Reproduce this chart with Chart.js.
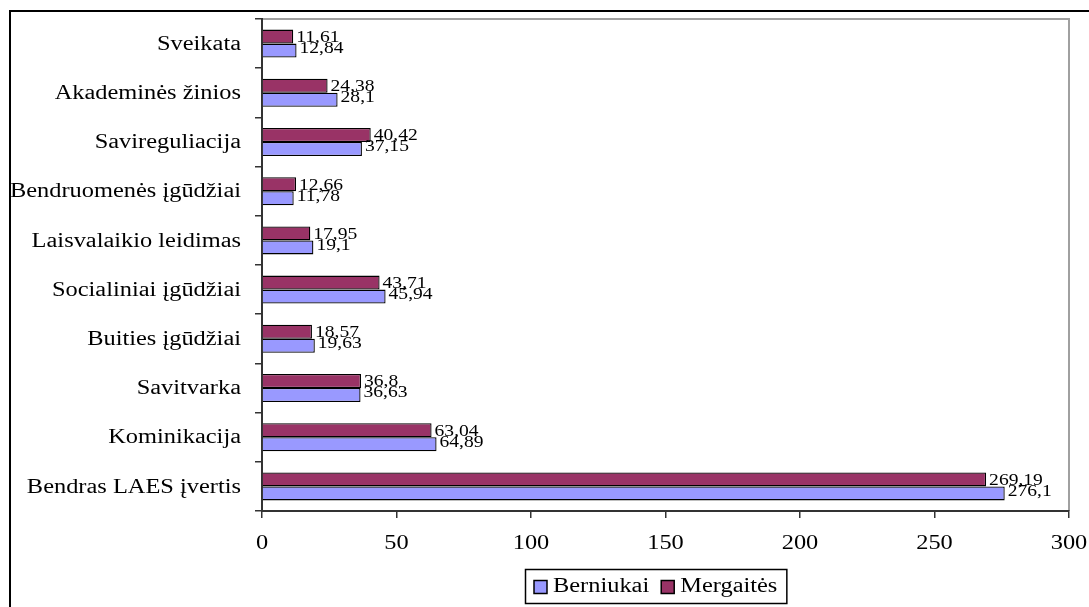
<!DOCTYPE html>
<html>
<head>
<meta charset="utf-8">
<title>LAES</title>
<script src="https://cdn.jsdelivr.net/npm/chart.js@4"></script>
<style>
  html, body { margin: 0; padding: 0; background: #fff; }
  canvas { display: block; }
</style>
</head>
<body>
<canvas id="graph" width="1089" height="607"></canvas>
<script>
// kategorijos iš viršaus į apačią
var categories = [
  'Sveikata',
  'Akademinės žinios',
  'Savireguliacija',
  'Bendruomenės įgūdžiai',
  'Laisvalaikio leidimas',
  'Socialiniai įgūdžiai',
  'Buities įgūdžiai',
  'Savitvarka',
  'Kominikacija',
  'Bendras LAES įvertis'
];
var berniukai = [12.84, 28.1, 37.15, 11.78, 19.1, 45.94, 19.63, 36.63, 64.89, 276.1];
var mergaites = [11.61, 24.38, 40.42, 12.66, 17.95, 43.71, 18.57, 36.8, 63.04, 269.19];
var xTicks = [0, 50, 100, 150, 200, 250, 300];

var serif = '"Liberation Serif", "Times New Roman", serif';

// skaičius su kableliu
function fmt(v){
  return String(v).replace('.', ',');
}

// tekstas ištemptas horizontaliai (kaip Excel'io paveiksle)
function wideText(ctx, text, x, y, align, sx){
  ctx.save();
  ctx.translate(x, y);
  ctx.scale(sx, 1);
  ctx.textAlign = align;
  ctx.fillText(text, 0, 0);
  ctx.restore();
}
function wideWidth(ctx, text, sx){
  return ctx.measureText(text).width * sx;
}

// rėmeliai aplink diagramą ir braižymo sritį
var framePlugin = {
  id: 'frame',
  beforeDraw: function(chart){
    var ctx = chart.ctx, a = chart.chartArea;
    ctx.save();
    ctx.strokeStyle = '#000';
    ctx.lineWidth = 2;
    ctx.beginPath();
    ctx.moveTo(10, chart.height);
    ctx.lineTo(10, 11);
    ctx.lineTo(chart.width, 11);
    ctx.stroke();

    ctx.strokeStyle = '#a0a0a0';
    ctx.lineWidth = 2;
    ctx.beginPath();
    ctx.moveTo(a.left, a.top);
    ctx.lineTo(a.right, a.top);
    ctx.lineTo(a.right, a.bottom);
    ctx.stroke();
    ctx.restore();
  }
};

// ašių užrašai
var axisLabelPlugin = {
  id: 'axisLabels',
  afterDraw: function(chart){
    var ctx = chart.ctx, sx = chart.scales.x, sy = chart.scales.y;
    ctx.save();
    ctx.font = '20px ' + serif;
    ctx.fillStyle = '#000';
    ctx.textBaseline = 'middle';
    categories.forEach(function(c, i){
      wideText(ctx, c, chart.chartArea.left - 21, sy.getPixelForValue(i) + 1, 'right', 1.22);
    });
    xTicks.forEach(function(v){
      wideText(ctx, String(v), sx.getPixelForValue(v), sx.top + 33, 'center', 1.22);
    });
    ctx.restore();
  }
};

// reikšmės prie stulpelių galų
var valuePlugin = {
  id: 'values',
  afterDatasetsDraw: function(chart){
    var ctx = chart.ctx;
    ctx.save();
    ctx.font = '17px ' + serif;
    ctx.fillStyle = '#000';
    ctx.textBaseline = 'middle';
    chart.data.datasets.forEach(function(ds, i){
      var meta = chart.getDatasetMeta(i);
      meta.data.forEach(function(bar, j){
        var dy = i === 0 ? 1 : -2;
        wideText(ctx, fmt(ds.data[j]), bar.x + 3, bar.y + dy, 'left', 1.15);
      });
    });
    ctx.restore();
  }
};

// legenda apačioje su rėmeliu
var legendPlugin = {
  id: 'boxLegend',
  afterDraw: function(chart){
    var ctx = chart.ctx;
    var items = chart.data.datasets.slice().reverse();
    var k = 1.22;
    ctx.save();
    ctx.font = '20px ' + serif;
    var box = 13, gapIn = 6, gapOut = 12, padL = 9, padR = 9;
    var w = padL + padR;
    items.forEach(function(ds, i){
      w += box + gapIn + wideWidth(ctx, ds.label, k) + (i > 0 ? gapOut : 0);
    });
    var h = 34;
    var cx = 656, top = 569;
    var left = Math.round(cx - w / 2);
    ctx.strokeStyle = '#000';
    ctx.lineWidth = 1.5;
    ctx.strokeRect(left + 0.5, top + 0.5, w, h);

    var x = left + padL, cy = top + h / 2 + 1;
    ctx.textBaseline = 'middle';
    items.forEach(function(ds, i){
      if(i > 0) x += gapOut;
      ctx.fillStyle = ds.backgroundColor;
      ctx.fillRect(x, cy - box / 2, box, box);
      ctx.lineWidth = 1.5;
      ctx.strokeRect(x, cy - box / 2, box, box);
      x += box + gapIn;
      ctx.fillStyle = '#000';
      wideText(ctx, ds.label, x, cy, 'left', k);
      x += wideWidth(ctx, ds.label, k);
    });
    ctx.restore();
  }
};

var chart = new Chart(document.querySelector('#graph'), {
  type: 'bar',
  data: {
    labels: categories,
    datasets: [
      {
        label: 'Mergaitės',
        data: mergaites,
        backgroundColor: '#993366',
        borderColor: '#000',
        borderWidth: 1.3,
        borderSkipped: 'start',
        categoryPercentage: 0.57,
        barPercentage: 1
      },
      {
        label: 'Berniukai',
        data: berniukai,
        backgroundColor: '#9999ff',
        borderColor: '#000',
        borderWidth: 1.3,
        borderSkipped: 'start',
        categoryPercentage: 0.57,
        barPercentage: 1
      }
    ]
  },
  options: {
    indexAxis: 'y',
    responsive: false,
    animation: false,
    layout: { padding: { left: 10, top: 19, right: 20, bottom: 0 } },
    plugins: {
      legend: { display: false },
      tooltip: { enabled: false }
    },
    scales: {
      x: {
        min: 0,
        max: 300,
        afterBuildTicks: function(scale){
          scale.ticks = xTicks.map(function(v){ return { value: v }; });
        },
        afterFit: function(scale){
          scale.height = 96;
          scale.paddingLeft = 0;
          scale.paddingRight = 0;
        },
        ticks: { display: false },
        grid: { drawOnChartArea: false, tickLength: 7, color: '#333', lineWidth: 1.5 },
        border: { color: '#333', width: 2 }
      },
      y: {
        afterFit: function(scale){
          scale.width = 252;
          scale.paddingTop = 0;
          scale.paddingBottom = 0;
        },
        ticks: { display: false },
        grid: { offset: true, drawOnChartArea: false, tickLength: 7, color: '#333', lineWidth: 1.5 },
        border: { color: '#333', width: 2 }
      }
    }
  },
  plugins: [framePlugin, valuePlugin, axisLabelPlugin, legendPlugin]
});
</script>
</body>
</html>
